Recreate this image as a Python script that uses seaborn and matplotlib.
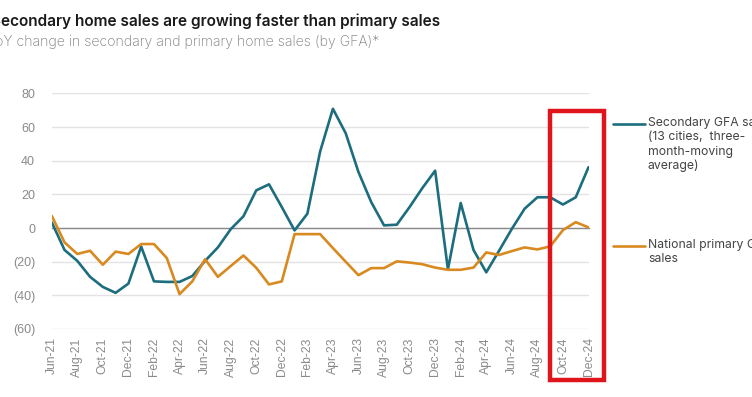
import matplotlib
matplotlib.use("Agg")
import matplotlib.pyplot as plt
import seaborn as sns
import pandas as pd
from matplotlib.lines import Line2D
from matplotlib.patches import Rectangle
from matplotlib.ticker import FuncFormatter, MultipleLocator

months = ["Jun-21", "Jul-21", "Aug-21", "Sep-21", "Oct-21", "Nov-21", "Dec-21",
          "Jan-22", "Feb-22", "Mar-22", "Apr-22", "May-22", "Jun-22", "Jul-22",
          "Aug-22", "Sep-22", "Oct-22", "Nov-22", "Dec-22", "Jan-23", "Feb-23",
          "Mar-23", "Apr-23", "May-23", "Jun-23", "Jul-23", "Aug-23", "Sep-23",
          "Oct-23", "Nov-23", "Dec-23", "Jan-24", "Feb-24", "Mar-24", "Apr-24",
          "May-24", "Jun-24", "Jul-24", "Aug-24", "Sep-24", "Oct-24", "Nov-24",
          "Dec-24"]

secondary = [3.4, -13, -19.5, -29, -35, -38.5, -33, -11, -31.7, -32, -32, -28.5,
             -19.5, -11.5, -0.7, 7, 22.4, 26, 12.5, -1.4, 8.5, 45.5, 70.9, 56.4,
             33.3, 15.4, 1.6, 2, 12.5, 23.8, 34.1, -24.6, 14.9, -13, -26.3, -13.5,
             -0.5, 11.5, 18.3, 18.3, 14, 18.3, 36.2]

primary = [7.3, -8.5, -15.4, -13.5, -21.8, -14, -15.4, -9.5, -9.5, -17.8, -39.3,
           -31.7, -18.5, -29, -22.6, -16.3, -23.6, -33.5, -31.7, -3.6, -3.6, -3.6,
           -11.9, -20, -28, -23.8, -23.8, -19.8, -20.5, -21.5, -23.5, -24.8, -24.8,
           -23.5, -14.5, -16, -13.7, -11.5, -12.7, -10.9, -1.2, 3.5, 0.4]

series_names = ["Secondary GFA sales\n(13 cities,  three-\nmonth-moving\naverage)",
                "National primary GFA\nsales"]
y_ticks = [-60, -40, -20, 0, 20, 40, 60, 80]

title = "Secondary home sales are growing faster than primary sales"
subtitle = "YoY change in secondary and primary home sales (by GFA)*"

TEAL = "#1c6d7e"
ORANGE = "#d8891f"
GREY = "#8a8a8a"

sns.set_style("white")
plt.rcParams["font.family"] = ["Liberation Sans", "DejaVu Sans"]

df = pd.DataFrame({
    "idx": list(range(len(months))) * 2,
    "value": secondary + primary,
    "series": [series_names[0]] * len(months) + [series_names[1]] * len(months),
})

fig = plt.figure(figsize=(7.52, 3.97), dpi=100)
ax = fig.add_axes([0.0688, 0.1713, 0.7138, 0.5932])

sns.lineplot(data=df, x="idx", y="value", hue="series",
             palette={series_names[0]: TEAL, series_names[1]: ORANGE},
             linewidth=1.9, legend=False, ax=ax, zorder=3)

ax.set_xlim(0, len(months) - 1)
ax.set_ylim(min(y_ticks), max(y_ticks))
ax.set_yticks(y_ticks)
ax.yaxis.set_major_formatter(FuncFormatter(
    lambda v, p: f"({abs(int(v))})" if v < 0 else f"{int(v)}"))
ax.grid(axis="y", color="#e3e3e3", linewidth=1.0)
ax.set_axisbelow(True)
for s in ["top", "right", "left"]:
    ax.spines[s].set_visible(False)
ax.spines["bottom"].set_position(("data", 0))
ax.spines["bottom"].set_color("#8a8a8a")
ax.spines["bottom"].set_linewidth(1.0)
ax.spines["bottom"].set_zorder(2)
ax.xaxis.set_major_locator(MultipleLocator(2))
ax.tick_params(axis="x", direction="out", length=3, color="#8a8a8a",
               labelbottom=False)
ax.tick_params(axis="y", length=0, labelsize=9, labelcolor=GREY, pad=12)
ax.set_xlabel("")
ax.set_ylabel("")

sec = ax.secondary_xaxis("bottom")
sec.set_xticks(list(range(0, len(months), 2)))
sec.set_xticklabels(months[::2], rotation=90, fontsize=8.7, color=GREY)
sec.tick_params(length=0, pad=6)
sec.spines["bottom"].set_visible(False)

# highlight box
rect = Rectangle((39, -90.6), 4.2, 160.2, fill=False, edgecolor="#e0141b",
                 linewidth=3.2, clip_on=False, zorder=5)
ax.add_patch(rect)

# title and subtitle (left part cropped as in the reference)
fig.text(-0.0125, 1 - 26 / 397, title, fontsize=11.1, fontweight="semibold",
         family=["Inter", "DejaVu Sans"], color="#1a1a1a", va="baseline")
fig.text(-0.018, 1 - 46 / 397, subtitle, fontsize=10.1, fontweight="light",
         family=["Inter", "DejaVu Sans"], color="#7a7a7a", va="baseline")

# legend
for name, color, ypix in [(series_names[0], TEAL, 124), (series_names[1], ORANGE, 246)]:
    yf = 1 - ypix / 397
    fig.add_artist(Line2D([613 / 752, 645 / 752], [yf, yf], color=color,
                          linewidth=1.9, transform=fig.transFigure))
    fig.text(648 / 752, yf + 7 / 397, name, fontsize=8.8, color="#444444",
             va="top", ha="left", linespacing=1.25,
             family=["Inter", "DejaVu Sans"])

fig.savefig("out.png", dpi=100)
